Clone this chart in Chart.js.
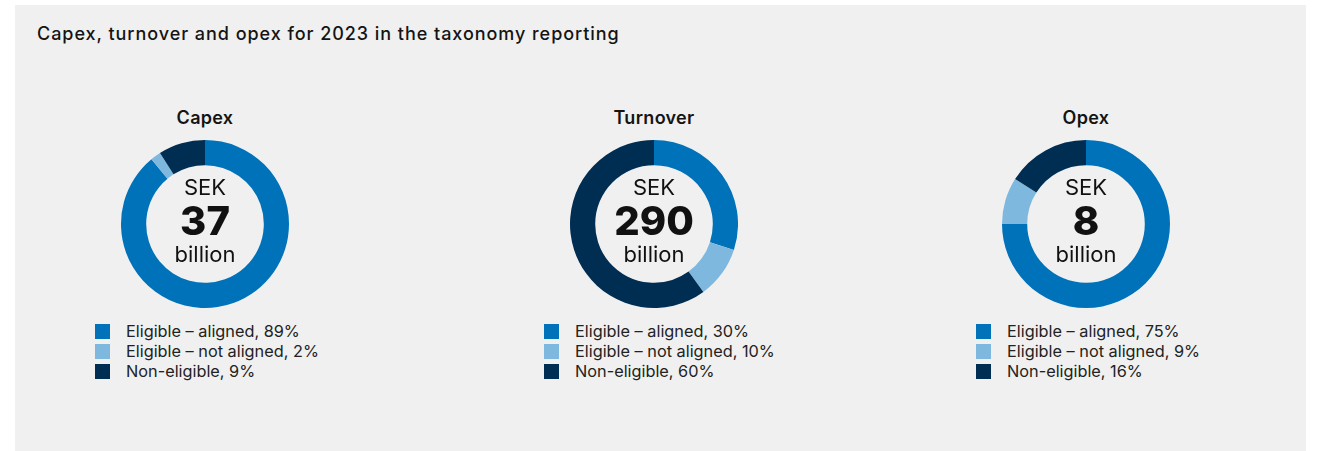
<!DOCTYPE html>
<html>
<head>
<meta charset="utf-8">
<script src="https://cdn.jsdelivr.net/npm/chart.js@4/dist/chart.umd.min.js"></script>
<style>
  html, body { margin: 0; padding: 0; background: #ffffff; }
  body { width: 1321px; height: 451px; position: relative; overflow: hidden; font-family: Inter, "Noto Sans", sans-serif; color: #1a1a1a; }
  .panel { position: absolute; left: 15px; top: 5px; width: 1291px; height: 446px; background: #f0f0f0; }
  .main-title { position: absolute; left: 37px; top: 23px; font-size: 18px; font-weight: 500; letter-spacing: 0.95px; color: #141414; }
  .block { position: absolute; top: 0; width: 300px; }
  .block h3 { position: absolute; top: 107px; left: 0; width: 100%; margin: 0; text-align: center; font-size: 18px; font-weight: 600; letter-spacing: 0.3px; color: #141414; }
  .block canvas { position: absolute; top: 140px; }
  .legend { position: absolute; top: 321px; list-style: none; margin: 0; padding: 0; font-size: 16.3px; color: #222222; }
  .legend li { height: 20px; line-height: 20px; display: flex; align-items: center; white-space: nowrap; }
  .legend span.sw { width: 15px; height: 15px; margin-right: 16px; display: inline-block; }
</style>
</head>
<body>
<div class="panel"></div>
<div class="main-title">Capex, turnover and opex for 2023 in the taxonomy reporting</div>
<div id="charts"></div>

<script>
(function() {
    'use strict';

    // Data
    const categories = ['Eligible – aligned', 'Eligible – not aligned', 'Non-eligible'];
    const chartTitles = ['Capex', 'Turnover', 'Opex'];
    const totals = ['37', '290', '8'];
    const capexShares = [89, 2, 9];
    const turnoverShares = [30, 10, 60];
    const opexShares = [75, 9, 16];
    const colors = ['#0072ba', '#7fb8de', '#002d52'];

    const seriesList = [capexShares, turnoverShares, opexShares];
    const centersX = [205, 654, 1086];
    const R = 84;

    /**
     * Draws "SEK / value / billion" inside the doughnut hole
     */
    const centerTextPlugin = {
        id: 'centerText',
        afterDraw: function(chart) {
            const opts = chart.options.plugins.centerText;
            const ctx = chart.ctx;
            const arc = chart.getDatasetMeta(0).data[0];
            const x = arc.x, y = arc.y;
            ctx.save();
            ctx.fillStyle = '#111111';
            ctx.textAlign = 'center';
            ctx.textBaseline = 'middle';
            ctx.font = '400 22px Inter, "Noto Sans", sans-serif';
            ctx.fillText('SEK', x, y - 36);
            ctx.font = '800 40px Inter, "Noto Sans", sans-serif';
            ctx.fillText(opts.value, x, y - 1);
            ctx.font = '400 22px Inter, "Noto Sans", sans-serif';
            ctx.fillText('billion', x, y + 31);
            ctx.restore();
        }
    };

    const host = document.getElementById('charts');

    seriesList.forEach(function(values, i) {
        const block = document.createElement('div');
        block.className = 'block';
        block.style.left = (centersX[i] - 150) + 'px';

        const h = document.createElement('h3');
        h.textContent = chartTitles[i];
        block.appendChild(h);

        const canvas = document.createElement('canvas');
        canvas.width = R * 2;
        canvas.height = R * 2;
        canvas.style.width = (R * 2) + 'px';
        canvas.style.height = (R * 2) + 'px';
        canvas.style.left = (150 - R) + 'px';
        block.appendChild(canvas);

        const ul = document.createElement('ul');
        ul.className = 'legend';
        ul.style.left = (150 - 110) + 'px';
        categories.forEach(function(cat, k) {
            const li = document.createElement('li');
            const sw = document.createElement('span');
            sw.className = 'sw';
            sw.style.background = colors[k];
            li.appendChild(sw);
            li.appendChild(document.createTextNode(cat + ', ' + values[k] + '%'));
            ul.appendChild(li);
        });
        block.appendChild(ul);
        host.appendChild(block);

        new Chart(canvas, {
            type: 'doughnut',
            data: {
                labels: categories,
                datasets: [{
                    data: values,
                    backgroundColor: colors,
                    borderWidth: 0,
                    hoverOffset: 0,
                    offset: 0
                }]
            },
            options: {
                responsive: false,
                animation: false,
                cutout: '70%',
                layout: { padding: 0 },
                plugins: {
                    legend: { display: false },
                    tooltip: { enabled: false },
                    centerText: { value: totals[i] }
                }
            },
            plugins: [centerTextPlugin]
        });
    });
})();
</script>
</body>
</html>
